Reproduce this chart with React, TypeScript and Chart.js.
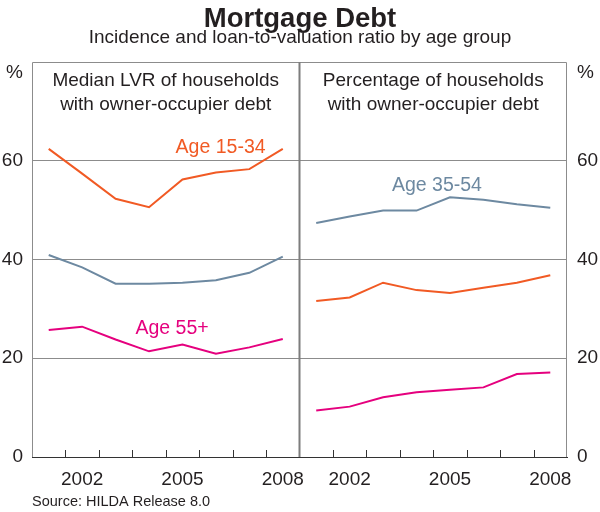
import React, { useEffect, useRef } from "react";
import { Chart, registerables } from "chart.js";

Chart.register(...registerables);

// ---- data ----
const years = [2001, 2002, 2003, 2004, 2005, 2006, 2007, 2008];
const labelYears = [2002, 2005, 2008];
const yTicks = [0, 20, 40, 60];

// Left panel: median LVR of households with owner-occupier debt (%)
const lvrAge15to34 = [62.4, 57.4, 52.3, 50.6, 56.2, 57.6, 58.3, 62.4];
const lvrAge35to54 = [40.9, 38.4, 35.1, 35.1, 35.3, 35.8, 37.3, 40.6];
const lvrAge55plus = [25.7, 26.4, 23.8, 21.4, 22.8, 20.9, 22.2, 23.9];

// Right panel: percentage of households with owner-occupier debt (%)
const pctAge15to34 = [31.6, 32.3, 35.3, 33.8, 33.2, 34.3, 35.3, 36.8];
const pctAge35to54 = [47.4, 48.7, 49.9, 49.9, 52.6, 52.1, 51.2, 50.5];
const pctAge55plus = [9.4, 10.2, 12.1, 13.1, 13.6, 14.1, 16.8, 17.1];

const panelTitles = [
  ["Median LVR of households", "with owner-occupier debt"],
  ["Percentage of households", "with owner-occupier debt"],
];

const COLOR_YOUNG = "#f15a24";
const COLOR_MID = "#6d89a1";
const COLOR_OLD = "#e5007e";
const TEXT = "#231f20";
const GRID = "#8c8c8c";
const FONT = '"Liberation Sans", Arial, Helvetica, sans-serif';

// series annotation labels (anchored in data coordinates)
const seriesLabels = [
  { text: "Age 15-34", x: 5.64, y: 61.5, color: COLOR_YOUNG },
  { text: "Age 35-54", x: 12.11, y: 53.9, color: COLOR_MID },
  { text: "Age 55+", x: 4.19, y: 24.85, color: COLOR_OLD },
];

const PANEL_SLOTS = years.length; // 8 slots per panel

const toPoints = (vals: number[], panel: number) =>
  vals.map((v, i) => ({ x: panel * PANEL_SLOTS + i + 0.5, y: v }));

const xTickValues: number[] = [];
[0, 1].forEach((p) =>
  labelYears.forEach((yr) => xTickValues.push(p * PANEL_SLOTS + years.indexOf(yr) + 0.5))
);

const decorPlugin = {
  id: "decor",
  afterDraw(chart: any) {
    const { ctx, chartArea } = chart;
    const xs = chart.scales.x;
    const ys = chart.scales.y;
    const { left, right, top, bottom } = chartArea;
    ctx.save();

    // frame (top, left, right)
    ctx.strokeStyle = GRID;
    ctx.lineWidth = 1;
    ctx.beginPath();
    ctx.moveTo(left + 0.5, bottom);
    ctx.lineTo(left + 0.5, top + 0.5);
    ctx.lineTo(right - 0.5, top + 0.5);
    ctx.lineTo(right - 0.5, bottom);
    ctx.stroke();

    // divider between panels
    const divX = xs.getPixelForValue(PANEL_SLOTS);
    ctx.strokeStyle = "#7d7d7d";
    ctx.lineWidth = 2;
    ctx.beginPath();
    ctx.moveTo(divX, top);
    ctx.lineTo(divX, bottom);
    ctx.stroke();

    // inward tick marks between years
    ctx.strokeStyle = "#333";
    ctx.lineWidth = 1;
    ctx.beginPath();
    for (let p = 0; p < 2; p++) {
      for (let i = 1; i < PANEL_SLOTS; i++) {
        const px = Math.round(xs.getPixelForValue(p * PANEL_SLOTS + i)) + 0.5;
        ctx.moveTo(px, bottom);
        ctx.lineTo(px, bottom - 7);
      }
    }
    ctx.stroke();

    ctx.fillStyle = TEXT;
    ctx.textBaseline = "alphabetic";

    // main title & subtitle
    ctx.textAlign = "center";
    ctx.font = `bold 27.5px ${FONT}`;
    ctx.fillText("Mortgage Debt", 300, 26.7);
    ctx.font = `19px ${FONT}`;
    ctx.fillText("Incidence and loan-to-valuation ratio by age group", 300, 42.7);

    // panel titles
    ctx.font = `19px ${FONT}`;
    [0, 1].forEach((p) => {
      const cx =
        (xs.getPixelForValue(p * PANEL_SLOTS) + xs.getPixelForValue((p + 1) * PANEL_SLOTS)) / 2;
      ctx.fillText(panelTitles[p][0], cx, 86);
      ctx.fillText(panelTitles[p][1], cx, 109.5);
    });

    // % unit labels
    ctx.textAlign = "right";
    ctx.fillText("%", left - 9, 78);
    ctx.textAlign = "left";
    ctx.fillText("%", right + 10, 78);

    // series labels
    ctx.textAlign = "center";
    ctx.font = `19.5px ${FONT}`;
    seriesLabels.forEach((l) => {
      ctx.fillStyle = l.color;
      ctx.fillText(l.text, xs.getPixelForValue(l.x), ys.getPixelForValue(l.y));
    });

    // source
    ctx.fillStyle = TEXT;
    ctx.textAlign = "left";
    ctx.font = `14.5px ${FONT}`;
    ctx.fillText("Source: HILDA Release 8.0", 32, 506);

    ctx.restore();
  },
};

export default function App() {
  const canvasRef = useRef<HTMLCanvasElement | null>(null);

  useEffect(() => {
    if (!canvasRef.current) return;
    Chart.defaults.font.family = FONT;

    const mk = (label: string, vals: number[], panel: number, color: string) => ({
      label,
      data: toPoints(vals, panel),
      borderColor: color,
      backgroundColor: color,
      borderWidth: 2,
      pointRadius: 0,
      tension: 0,
      fill: false,
    });

    const chart = new Chart(canvasRef.current, {
      type: "line",
      data: {
        datasets: [
          mk("LVR Age 15-34", lvrAge15to34, 0, COLOR_YOUNG),
          mk("LVR Age 35-54", lvrAge35to54, 0, COLOR_MID),
          mk("LVR Age 55+", lvrAge55plus, 0, COLOR_OLD),
          mk("Share Age 15-34", pctAge15to34, 1, COLOR_YOUNG),
          mk("Share Age 35-54", pctAge35to54, 1, COLOR_MID),
          mk("Share Age 55+", pctAge55plus, 1, COLOR_OLD),
        ],
      },
      options: {
        animation: false,
        responsive: false,
        events: [],
        layout: { padding: { top: 62, left: 0, right: 0, bottom: 0 } },
        plugins: {
          legend: { display: false },
          tooltip: { enabled: false },
          title: { display: false },
        },
        scales: {
          x: {
            type: "linear",
            position: "bottom",
            min: 0,
            max: PANEL_SLOTS * 2,
            grid: { display: false, drawTicks: false },
            border: { display: true, color: "#333", width: 1 },
            ticks: {
              color: TEXT,
              font: { size: 19, family: FONT },
              padding: 11,
              autoSkip: false,
              maxRotation: 0,
              callback: (v: any) => String(years[Math.floor(Number(v)) % PANEL_SLOTS]),
            },
            afterBuildTicks: (s: any) => {
              s.ticks = xTickValues.map((v) => ({ value: v }));
            },
            afterFit: (s: any) => {
              s.height = 55;
            },
          },
          y: {
            type: "linear",
            position: "left",
            min: 0,
            max: 80,
            grid: {
              drawTicks: false,
              color: (c: any) => (c.tick && c.tick.value === 0 ? "rgba(0,0,0,0)" : GRID),
              lineWidth: 1,
            },
            border: { display: false },
            ticks: { color: TEXT, font: { size: 19, family: FONT }, padding: 9 },
            afterBuildTicks: (s: any) => {
              s.ticks = yTicks.map((v) => ({ value: v }));
            },
            afterFit: (s: any) => {
              s.width = 32;
            },
          },
          y2: {
            type: "linear",
            position: "right",
            min: 0,
            max: 80,
            grid: { display: false, drawTicks: false },
            border: { display: false },
            ticks: { color: TEXT, font: { size: 19, family: FONT }, padding: 10 },
            afterBuildTicks: (s: any) => {
              s.ticks = yTicks.map((v) => ({ value: v }));
            },
            afterFit: (s: any) => {
              s.width = 33;
            },
          },
        },
      } as any,
      plugins: [decorPlugin],
    });

    return () => chart.destroy();
  }, []);

  return (
    <div style={{ position: "absolute", left: 0, top: 0, width: 600, height: 512, background: "#fff" }}>
      <canvas ref={canvasRef} width={600} height={512} style={{ display: "block" }} />
    </div>
  );
}
